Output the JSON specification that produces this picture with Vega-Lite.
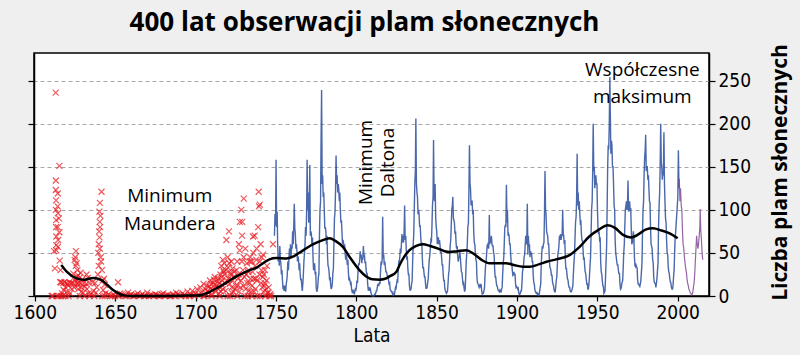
{
"$schema": "https://vega.github.io/schema/vega-lite/v6.json",
"width": 675, "height": 243,
"autosize": "none",
"padding": {"left": 34, "top": 53, "right": 91, "bottom": 59},
"background": "#efefef",
"title": {"text": "400 lat obserwacji plam słonecznych", "font": "Open Sans", "fontSize": 26, "fontWeight": "bold", "color": "black", "anchor": "middle", "offset": 8, "dx": -7},
"config": {
  "view": {"fill": "white", "stroke": "black", "strokeWidth": 1.5},
  "axis": {"domainColor": "black", "tickColor": "black", "labelColor": "black", "titleColor": "black", "domainWidth": 1.5, "tickWidth": 1.2}
},
"datasets": {
"red": [
{"t":1610.5,"n":0},{"t":1611.2,"n":0},{"t":1612.0,"n":52},{"t":1612.5,"n":32},{"t":1613.0,"n":236},{"t":1613.1,"n":134},{"t":1613.1,"n":123},{"t":1613.2,"n":111},{"t":1613.1,"n":100},{"t":1613.3,"n":88},{"t":1613.2,"n":80},{"t":1613.4,"n":69},{"t":1613.3,"n":59},{"t":1613.4,"n":53},{"t":1614.3,"n":119},{"t":1614.2,"n":104},{"t":1614.4,"n":96},{"t":1614.3,"n":80},{"t":1614.5,"n":65},{"t":1614.4,"n":57},{"t":1615.3,"n":151},{"t":1615.3,"n":74},{"t":1615.5,"n":41},{"t":1615.0,"n":90},{"t":1616.0,"n":30},{"t":1615.8,"n":16},{"t":1616.5,"n":16},{"t":1616.2,"n":0},{"t":1617.0,"n":3},{"t":1617.5,"n":0},{"t":1614.8,"n":0},{"t":1613.8,"n":0},
{"t":1617.5,"n":15},{"t":1618.5,"n":16},{"t":1619.5,"n":15},{"t":1620.5,"n":14},{"t":1621.5,"n":16},{"t":1622.5,"n":15},{"t":1623.5,"n":15},{"t":1624.5,"n":14},{"t":1626.5,"n":15},{"t":1627.5,"n":16},{"t":1628.5,"n":15},{"t":1630.5,"n":15},{"t":1632,"n":14},{"t":1634,"n":15},{"t":1636,"n":16},{"t":1637.5,"n":15},{"t":1618,"n":7},{"t":1620,"n":5},{"t":1619,"n":0},{"t":1621,"n":0},{"t":1622,"n":3},{"t":1628,"n":0},{"t":1630,"n":4},{"t":1631,"n":0},{"t":1634,"n":0},{"t":1635,"n":2},{"t":1637,"n":0},{"t":1638,"n":4},
{"t":1619,"n":10},{"t":1621,"n":12},{"t":1623,"n":8},{"t":1625,"n":18},{"t":1627,"n":12},{"t":1629,"n":5},{"t":1632.5,"n":8},{"t":1633.5,"n":3},{"t":1636.5,"n":6},{"t":1638.5,"n":10},{"t":1639.2,"n":25},{"t":1639.8,"n":35},{"t":1641.8,"n":30},{"t":1642.2,"n":18},
{"t":1625.6,"n":52},{"t":1625.2,"n":45},{"t":1624.8,"n":42},{"t":1626,"n":38},{"t":1625.5,"n":35},{"t":1626.5,"n":30},{"t":1627,"n":24},{"t":1626.2,"n":22},{"t":1627.8,"n":21},{"t":1628.5,"n":27},{"t":1629.5,"n":19},{"t":1632.2,"n":25},{"t":1633,"n":21},{"t":1631,"n":11},{"t":1624,"n":26},{"t":1624.5,"n":10},{"t":1627,"n":8},{"t":1629,"n":10},
{"t":1641.5,"n":121},{"t":1640.5,"n":108},{"t":1640.2,"n":98},{"t":1640.8,"n":93},{"t":1640.4,"n":86},{"t":1640.6,"n":80},{"t":1640.0,"n":75},{"t":1640.3,"n":68},{"t":1639.8,"n":60},{"t":1640.5,"n":55},{"t":1639.5,"n":50},{"t":1641,"n":45},{"t":1641.2,"n":40},{"t":1643,"n":20},{"t":1643.5,"n":13},{"t":1642.5,"n":7},{"t":1644,"n":3},{"t":1642,"n":0},{"t":1643.5,"n":0},
{"t":1646,"n":2},{"t":1648,"n":0},{"t":1651.8,"n":16},{"t":1653,"n":3},{"t":1655,"n":1},{"t":1656,"n":0},{"t":1658,"n":4},{"t":1660,"n":2},{"t":1662,"n":0},{"t":1664,"n":3},{"t":1666,"n":1},{"t":1668,"n":0},{"t":1670,"n":4},{"t":1672,"n":1},{"t":1675,"n":2},{"t":1677,"n":0},{"t":1680,"n":3},{"t":1682,"n":1},{"t":1684,"n":0},{"t":1686,"n":2},{"t":1688,"n":4},{"t":1690,"n":1},{"t":1692,"n":3},{"t":1694,"n":0},{"t":1695,"n":5},{"t":1697,"n":2},{"t":1698,"n":6},{"t":1699,"n":1},
{"t":1647,"n":0},{"t":1649,"n":1},{"t":1650,"n":0},{"t":1652,"n":0},{"t":1654,"n":2},{"t":1657,"n":0},{"t":1659,"n":1},{"t":1661,"n":0},{"t":1663,"n":1},{"t":1665,"n":0},{"t":1667,"n":2},{"t":1669,"n":0},{"t":1671,"n":0},{"t":1673,"n":1},{"t":1674,"n":0},{"t":1676,"n":1},{"t":1678,"n":0},{"t":1679,"n":2},{"t":1681,"n":0},{"t":1683,"n":1},{"t":1685,"n":0},{"t":1687,"n":0},{"t":1689,"n":2},{"t":1691,"n":0},{"t":1693,"n":1},{"t":1696,"n":0},{"t":1699.5,"n":0},
{"t":1700,"n":3},{"t":1701,"n":8},{"t":1702,"n":2},{"t":1703,"n":10},{"t":1704,"n":5},{"t":1705,"n":14},{"t":1705.5,"n":0},{"t":1706,"n":8},{"t":1707,"n":12},{"t":1708,"n":4},{"t":1709,"n":18},{"t":1709.5,"n":9},{"t":1710,"n":2},{"t":1711,"n":15},{"t":1712,"n":22},{"t":1712.5,"n":6},{"t":1713,"n":12},{"t":1714,"n":20},{"t":1714.5,"n":3},{"t":1715,"n":10},{"t":1715.5,"n":25},
{"t":1706.5,"n":3},{"t":1707.5,"n":6},{"t":1708.5,"n":11},{"t":1709.8,"n":14},{"t":1710.5,"n":7},{"t":1711.5,"n":19},{"t":1712.2,"n":13},{"t":1713.5,"n":17},{"t":1714.2,"n":8},{"t":1715.2,"n":15},{"t":1715.8,"n":5},{"t":1716.2,"n":22},{"t":1716.8,"n":12},{"t":1717.2,"n":30},{"t":1718.2,"n":25},{"t":1718.8,"n":6},{"t":1719.5,"n":18},{"t":1720.2,"n":33},{"t":1721.2,"n":14},{"t":1721.8,"n":27},{"t":1722.2,"n":40},{"t":1722.8,"n":3},{"t":1723.2,"n":18},{"t":1723.8,"n":22},{"t":1724.5,"n":8},{"t":1725.5,"n":30},{"t":1726.2,"n":12},{"t":1726.8,"n":25},{"t":1727.2,"n":5},{"t":1728.2,"n":18},{"t":1728.8,"n":40},{"t":1729.8,"n":12},{"t":1730.5,"n":22},{"t":1731.2,"n":8},{"t":1732.2,"n":15},{"t":1732.8,"n":28},{"t":1733.2,"n":6},{"t":1733.8,"n":40},{"t":1734.2,"n":20},{"t":1735.2,"n":12},{"t":1735.5,"n":28},{"t":1736.2,"n":20},{"t":1737.2,"n":8},{"t":1737.8,"n":42},{"t":1738.2,"n":18},{"t":1739.8,"n":25},{"t":1740.8,"n":15},{"t":1741.2,"n":45},{"t":1741.8,"n":22},{"t":1742.2,"n":5},{"t":1742.8,"n":12},{"t":1743.2,"n":30},{"t":1744.2,"n":18},{"t":1744.8,"n":4},{"t":1745.5,"n":10},{"t":1746.5,"n":2},{"t":1740.2,"n":0},{"t":1735,"n":0},{"t":1730.8,"n":0},{"t":1726,"n":0},{"t":1720,"n":0},{"t":1715,"n":0},{"t":1710,"n":0},{"t":1705,"n":0},
{"t":1716,"n":35},{"t":1716.5,"n":18},{"t":1717,"n":42},{"t":1717.5,"n":28},{"t":1717,"n":8},{"t":1718,"n":38},{"t":1718.5,"n":15},{"t":1719.2,"n":65},{"t":1719,"n":30},{"t":1720.8,"n":75},{"t":1720,"n":45},{"t":1720.5,"n":20},{"t":1721,"n":38},{"t":1721.5,"n":0},{"t":1722,"n":25},{"t":1722.5,"n":10},{"t":1723,"n":32},{"t":1723.5,"n":5},{"t":1724,"n":28},{"t":1725,"n":12},
{"t":1726,"n":40},{"t":1726.5,"n":20},{"t":1727,"n":60},{"t":1727.5,"n":53},{"t":1727.6,"n":86},{"t":1728.5,"n":100},{"t":1729.1,"n":86},{"t":1729,"n":70},{"t":1730,"n":113},{"t":1730,"n":45},{"t":1729.5,"n":30},{"t":1728,"n":10},{"t":1731,"n":55},{"t":1731.5,"n":25},{"t":1732,"n":38},{"t":1732.5,"n":0},{"t":1733,"n":30},{"t":1733.5,"n":15},{"t":1734,"n":45},{"t":1734.5,"n":5},{"t":1735,"n":40},
{"t":1735.8,"n":69},{"t":1736.8,"n":70},{"t":1736,"n":50},{"t":1737,"n":35},{"t":1737.5,"n":20},{"t":1738,"n":55},{"t":1739.3,"n":121},{"t":1739.5,"n":104},{"t":1740,"n":106},{"t":1739,"n":80},{"t":1740.5,"n":60},{"t":1740,"n":40},{"t":1741,"n":30},{"t":1741.5,"n":10},{"t":1742,"n":48},{"t":1742.5,"n":25},{"t":1743,"n":15},{"t":1743.5,"n":0},{"t":1744,"n":8},{"t":1745,"n":3},{"t":1746,"n":0},{"t":1747,"n":0},{"t":1748.2,"n":60},{"t":1744.5,"n":35},{"t":1738.5,"n":0},{"t":1736.5,"n":5}
],
"blue": [
{"t":1749.1,"n":70},{"t":1749.45,"n":95},{"t":1749.8,"n":82},
{"t":1750.1,"n":158},{"t":1750.45,"n":80},{"t":1750.8,"n":98},
{"t":1751.1,"n":62},{"t":1751.45,"n":40},{"t":1751.8,"n":48},
{"t":1752.1,"n":35},{"t":1752.45,"n":58},{"t":1752.8,"n":42},
{"t":1753.1,"n":38},{"t":1753.45,"n":25},{"t":1753.8,"n":30},
{"t":1754.1,"n":18},{"t":1754.45,"n":8},{"t":1754.8,"n":12},
{"t":1755.1,"n":6},{"t":1755.45,"n":12},{"t":1755.8,"n":8},
{"t":1756.1,"n":5},{"t":1756.45,"n":14},{"t":1756.8,"n":18},
{"t":1757.1,"n":25},{"t":1757.45,"n":40},{"t":1757.8,"n":30},
{"t":1758.1,"n":42},{"t":1758.45,"n":55},{"t":1758.8,"n":45},
{"t":1759.1,"n":60},{"t":1759.45,"n":45},{"t":1759.8,"n":58},
{"t":1760.1,"n":55},{"t":1760.45,"n":75},{"t":1760.8,"n":60},
{"t":1761.1,"n":80},{"t":1761.45,"n":107},{"t":1761.8,"n":78},
{"t":1762.1,"n":72},{"t":1762.45,"n":55},{"t":1762.8,"n":60},
{"t":1763.1,"n":52},{"t":1763.45,"n":40},{"t":1763.8,"n":46},
{"t":1764.1,"n":42},{"t":1764.45,"n":30},{"t":1764.8,"n":38},
{"t":1765.1,"n":26},{"t":1765.45,"n":18},{"t":1765.8,"n":20},
{"t":1766.1,"n":12},{"t":1766.45,"n":6},{"t":1766.8,"n":15},
{"t":1767.1,"n":25},{"t":1767.45,"n":40},{"t":1767.8,"n":50},
{"t":1768.1,"n":58},{"t":1768.45,"n":80},{"t":1768.8,"n":70},
{"t":1769.1,"n":95},{"t":1769.45,"n":158},{"t":1769.8,"n":100},
{"t":1770.1,"n":120},{"t":1770.45,"n":85},{"t":1770.8,"n":100},
{"t":1771.1,"n":152},{"t":1771.45,"n":70},{"t":1771.8,"n":75},
{"t":1772.1,"n":72},{"t":1772.45,"n":58},{"t":1772.8,"n":68},
{"t":1773.1,"n":45},{"t":1773.45,"n":30},{"t":1773.8,"n":32},
{"t":1774.1,"n":38},{"t":1774.45,"n":25},{"t":1774.8,"n":28},
{"t":1775.1,"n":10},{"t":1775.45,"n":5},{"t":1775.8,"n":7},
{"t":1776.1,"n":12},{"t":1776.45,"n":22},{"t":1776.8,"n":26},
{"t":1777.1,"n":70},{"t":1777.45,"n":100},{"t":1777.8,"n":110},
{"t":1778.1,"n":177},{"t":1778.45,"n":239},{"t":1778.8,"n":130},
{"t":1779.1,"n":140},{"t":1779.45,"n":115},{"t":1779.8,"n":120},
{"t":1780.1,"n":100},{"t":1780.45,"n":78},{"t":1780.8,"n":80},
{"t":1781.1,"n":75},{"t":1781.45,"n":60},{"t":1781.8,"n":70},
{"t":1782.1,"n":48},{"t":1782.45,"n":35},{"t":1782.8,"n":33},
{"t":1783.1,"n":28},{"t":1783.45,"n":18},{"t":1783.8,"n":22},
{"t":1784.1,"n":12},{"t":1784.45,"n":8},{"t":1784.8,"n":10},
{"t":1785.1,"n":14},{"t":1785.45,"n":26},{"t":1785.8,"n":32},
{"t":1786.1,"n":60},{"t":1786.45,"n":90},{"t":1786.8,"n":98},
{"t":1787.1,"n":120},{"t":1787.45,"n":163},{"t":1787.8,"n":130},
{"t":1788.1,"n":140},{"t":1788.45,"n":120},{"t":1788.8,"n":130},
{"t":1789.1,"n":125},{"t":1789.45,"n":110},{"t":1789.8,"n":120},
{"t":1790.1,"n":100},{"t":1790.45,"n":85},{"t":1790.8,"n":88},
{"t":1791.1,"n":75},{"t":1791.45,"n":60},{"t":1791.8,"n":65},
{"t":1792.1,"n":62},{"t":1792.45,"n":55},{"t":1792.8,"n":60},
{"t":1793.1,"n":50},{"t":1793.45,"n":42},{"t":1793.8,"n":48},
{"t":1794.1,"n":45},{"t":1794.45,"n":36},{"t":1794.8,"n":42},
{"t":1795.1,"n":28},{"t":1795.45,"n":18},{"t":1795.8,"n":20},
{"t":1796.1,"n":18},{"t":1796.45,"n":14},{"t":1796.8,"n":15},
{"t":1797.1,"n":8},{"t":1797.45,"n":5},{"t":1797.8,"n":6},
{"t":1798.1,"n":3},{"t":1798.45,"n":5},{"t":1798.8,"n":2},
{"t":1799.1,"n":5},{"t":1799.45,"n":8},{"t":1799.8,"n":7},
{"t":1800.1,"n":10},{"t":1800.45,"n":18},{"t":1800.8,"n":15},
{"t":1801.1,"n":28},{"t":1801.45,"n":38},{"t":1801.8,"n":36},
{"t":1802.1,"n":40},{"t":1802.45,"n":52},{"t":1802.8,"n":44},
{"t":1803.1,"n":48},{"t":1803.45,"n":38},{"t":1803.8,"n":45},
{"t":1804.1,"n":42},{"t":1804.45,"n":58},{"t":1804.8,"n":45},
{"t":1805.1,"n":48},{"t":1805.45,"n":38},{"t":1805.8,"n":40},
{"t":1806.1,"n":32},{"t":1806.45,"n":25},{"t":1806.8,"n":27},
{"t":1807.1,"n":14},{"t":1807.45,"n":8},{"t":1807.8,"n":9},
{"t":1808.1,"n":6},{"t":1808.45,"n":10},{"t":1808.8,"n":8},
{"t":1809.1,"n":4},{"t":1809.45,"n":2},{"t":1809.8,"n":1},
{"t":1810.1,"n":0},{"t":1810.45,"n":0},{"t":1810.8,"n":0},
{"t":1811.1,"n":0},{"t":1811.45,"n":2},{"t":1811.8,"n":2},
{"t":1812.1,"n":3},{"t":1812.45,"n":6},{"t":1812.8,"n":6},
{"t":1813.1,"n":10},{"t":1813.45,"n":14},{"t":1813.8,"n":12},
{"t":1814.1,"n":12},{"t":1814.45,"n":16},{"t":1814.8,"n":14},
{"t":1815.1,"n":28},{"t":1815.45,"n":40},{"t":1815.8,"n":38},
{"t":1816.1,"n":40},{"t":1816.45,"n":92},{"t":1816.8,"n":44},
{"t":1817.1,"n":48},{"t":1817.45,"n":36},{"t":1817.8,"n":40},
{"t":1818.1,"n":34},{"t":1818.45,"n":28},{"t":1818.8,"n":28},
{"t":1819.1,"n":26},{"t":1819.45,"n":22},{"t":1819.8,"n":24},
{"t":1820.1,"n":18},{"t":1820.45,"n":14},{"t":1820.8,"n":15},
{"t":1821.1,"n":8},{"t":1821.45,"n":6},{"t":1821.8,"n":6},
{"t":1822.1,"n":5},{"t":1822.45,"n":3},{"t":1822.8,"n":4},
{"t":1823.1,"n":1},{"t":1823.45,"n":2},{"t":1823.8,"n":2},
{"t":1824.1,"n":6},{"t":1824.45,"n":10},{"t":1824.8,"n":9},
{"t":1825.1,"n":14},{"t":1825.45,"n":18},{"t":1825.8,"n":17},
{"t":1826.1,"n":28},{"t":1826.45,"n":40},{"t":1826.8,"n":40},
{"t":1827.1,"n":45},{"t":1827.45,"n":55},{"t":1827.8,"n":50},
{"t":1828.1,"n":60},{"t":1828.45,"n":72},{"t":1828.8,"n":62},
{"t":1829.1,"n":70},{"t":1829.45,"n":62},{"t":1829.8,"n":75},
{"t":1830.1,"n":105},{"t":1830.45,"n":65},{"t":1830.8,"n":70},
{"t":1831.1,"n":55},{"t":1831.45,"n":42},{"t":1831.8,"n":46},
{"t":1832.1,"n":32},{"t":1832.45,"n":25},{"t":1832.8,"n":25},
{"t":1833.1,"n":12},{"t":1833.45,"n":7},{"t":1833.8,"n":7},
{"t":1834.1,"n":8},{"t":1834.45,"n":14},{"t":1834.8,"n":18},
{"t":1835.1,"n":40},{"t":1835.45,"n":60},{"t":1835.8,"n":72},
{"t":1836.1,"n":100},{"t":1836.45,"n":130},{"t":1836.8,"n":146},
{"t":1837.1,"n":206},{"t":1837.45,"n":130},{"t":1837.8,"n":120},
{"t":1838.1,"n":115},{"t":1838.45,"n":95},{"t":1838.8,"n":100},
{"t":1839.1,"n":95},{"t":1839.45,"n":80},{"t":1839.8,"n":82},
{"t":1840.1,"n":70},{"t":1840.45,"n":60},{"t":1840.8,"n":62},
{"t":1841.1,"n":45},{"t":1841.45,"n":32},{"t":1841.8,"n":34},
{"t":1842.1,"n":28},{"t":1842.45,"n":22},{"t":1842.8,"n":22},
{"t":1843.1,"n":14},{"t":1843.45,"n":9},{"t":1843.8,"n":9},
{"t":1844.1,"n":10},{"t":1844.45,"n":16},{"t":1844.8,"n":20},
{"t":1845.1,"n":32},{"t":1845.45,"n":42},{"t":1845.8,"n":48},
{"t":1846.1,"n":55},{"t":1846.45,"n":65},{"t":1846.8,"n":64},
{"t":1847.1,"n":80},{"t":1847.45,"n":105},{"t":1847.8,"n":115},
{"t":1848.1,"n":181},{"t":1848.45,"n":115},{"t":1848.8,"n":110},
{"t":1849.1,"n":130},{"t":1849.45,"n":90},{"t":1849.8,"n":80},
{"t":1850.1,"n":75},{"t":1850.45,"n":60},{"t":1850.8,"n":66},
{"t":1851.1,"n":68},{"t":1851.45,"n":60},{"t":1851.8,"n":65},
{"t":1852.1,"n":60},{"t":1852.45,"n":50},{"t":1852.8,"n":52},
{"t":1853.1,"n":45},{"t":1853.45,"n":36},{"t":1853.8,"n":36},
{"t":1854.1,"n":25},{"t":1854.45,"n":18},{"t":1854.8,"n":18},
{"t":1855.1,"n":9},{"t":1855.45,"n":6},{"t":1855.8,"n":5},
{"t":1856.1,"n":3},{"t":1856.45,"n":4},{"t":1856.8,"n":6},
{"t":1857.1,"n":14},{"t":1857.45,"n":25},{"t":1857.8,"n":30},
{"t":1858.1,"n":42},{"t":1858.45,"n":58},{"t":1858.8,"n":65},
{"t":1859.1,"n":80},{"t":1859.45,"n":100},{"t":1859.8,"n":105},
{"t":1860.1,"n":115},{"t":1860.45,"n":90},{"t":1860.8,"n":88},
{"t":1861.1,"n":85},{"t":1861.45,"n":72},{"t":1861.8,"n":75},
{"t":1862.1,"n":62},{"t":1862.45,"n":55},{"t":1862.8,"n":58},
{"t":1863.1,"n":48},{"t":1863.45,"n":40},{"t":1863.8,"n":44},
{"t":1864.1,"n":45},{"t":1864.45,"n":52},{"t":1864.8,"n":44},
{"t":1865.1,"n":36},{"t":1865.45,"n":28},{"t":1865.8,"n":27},
{"t":1866.1,"n":20},{"t":1866.45,"n":14},{"t":1866.8,"n":15},
{"t":1867.1,"n":9},{"t":1867.45,"n":5},{"t":1867.8,"n":8},
{"t":1868.1,"n":22},{"t":1868.45,"n":40},{"t":1868.8,"n":50},
{"t":1869.1,"n":60},{"t":1869.45,"n":80},{"t":1869.8,"n":85},
{"t":1870.1,"n":120},{"t":1870.45,"n":175},{"t":1870.8,"n":130},
{"t":1871.1,"n":125},{"t":1871.45,"n":105},{"t":1871.8,"n":110},
{"t":1872.1,"n":110},{"t":1872.45,"n":95},{"t":1872.8,"n":100},
{"t":1873.1,"n":75},{"t":1873.45,"n":62},{"t":1873.8,"n":60},
{"t":1874.1,"n":50},{"t":1874.45,"n":42},{"t":1874.8,"n":40},
{"t":1875.1,"n":22},{"t":1875.45,"n":15},{"t":1875.8,"n":14},
{"t":1876.1,"n":12},{"t":1876.45,"n":10},{"t":1876.8,"n":12},
{"t":1877.1,"n":14},{"t":1877.45,"n":11},{"t":1877.8,"n":12},
{"t":1878.1,"n":5},{"t":1878.45,"n":2},{"t":1878.8,"n":3},
{"t":1879.1,"n":3},{"t":1879.45,"n":6},{"t":1879.8,"n":9},
{"t":1880.1,"n":22},{"t":1880.45,"n":35},{"t":1880.8,"n":40},
{"t":1881.1,"n":48},{"t":1881.45,"n":58},{"t":1881.8,"n":57},
{"t":1882.1,"n":62},{"t":1882.45,"n":55},{"t":1882.8,"n":94},
{"t":1883.1,"n":60},{"t":1883.45,"n":68},{"t":1883.8,"n":62},
{"t":1884.1,"n":70},{"t":1884.45,"n":60},{"t":1884.8,"n":58},
{"t":1885.1,"n":58},{"t":1885.45,"n":50},{"t":1885.8,"n":48},
{"t":1886.1,"n":32},{"t":1886.45,"n":22},{"t":1886.8,"n":22},
{"t":1887.1,"n":16},{"t":1887.45,"n":12},{"t":1887.8,"n":11},
{"t":1888.1,"n":8},{"t":1888.45,"n":6},{"t":1888.8,"n":6},
{"t":1889.1,"n":5},{"t":1889.45,"n":7},{"t":1889.8,"n":6},
{"t":1890.1,"n":4},{"t":1890.45,"n":8},{"t":1890.8,"n":10},
{"t":1891.1,"n":25},{"t":1891.45,"n":38},{"t":1891.8,"n":45},
{"t":1892.1,"n":60},{"t":1892.45,"n":80},{"t":1892.8,"n":82},
{"t":1893.1,"n":80},{"t":1893.45,"n":129},{"t":1893.8,"n":85},
{"t":1894.1,"n":100},{"t":1894.45,"n":70},{"t":1894.8,"n":72},
{"t":1895.1,"n":70},{"t":1895.45,"n":60},{"t":1895.8,"n":60},
{"t":1896.1,"n":48},{"t":1896.45,"n":38},{"t":1896.8,"n":38},
{"t":1897.1,"n":30},{"t":1897.45,"n":24},{"t":1897.8,"n":25},
{"t":1898.1,"n":28},{"t":1898.45,"n":24},{"t":1898.8,"n":26},
{"t":1899.1,"n":15},{"t":1899.45,"n":10},{"t":1899.8,"n":11},
{"t":1900.1,"n":10},{"t":1900.45,"n":8},{"t":1900.8,"n":9},
{"t":1901.1,"n":4},{"t":1901.45,"n":2},{"t":1901.8,"n":2},
{"t":1902.1,"n":3},{"t":1902.45,"n":6},{"t":1902.8,"n":6},
{"t":1903.1,"n":14},{"t":1903.45,"n":28},{"t":1903.8,"n":32},
{"t":1904.1,"n":36},{"t":1904.45,"n":45},{"t":1904.8,"n":48},
{"t":1905.1,"n":58},{"t":1905.45,"n":70},{"t":1905.8,"n":65},
{"t":1906.1,"n":60},{"t":1906.45,"n":107},{"t":1906.8,"n":48},
{"t":1907.1,"n":70},{"t":1907.45,"n":58},{"t":1907.8,"n":60},
{"t":1908.1,"n":45},{"t":1908.45,"n":52},{"t":1908.8,"n":48},
{"t":1909.1,"n":50},{"t":1909.45,"n":40},{"t":1909.8,"n":40},
{"t":1910.1,"n":25},{"t":1910.45,"n":16},{"t":1910.8,"n":14},
{"t":1911.1,"n":8},{"t":1911.45,"n":5},{"t":1911.8,"n":4},
{"t":1912.1,"n":3},{"t":1912.45,"n":4},{"t":1912.8,"n":3},
{"t":1913.1,"n":1},{"t":1913.45,"n":2},{"t":1913.8,"n":1},
{"t":1914.1,"n":5},{"t":1914.45,"n":10},{"t":1914.8,"n":14},
{"t":1915.1,"n":35},{"t":1915.45,"n":50},{"t":1915.8,"n":58},
{"t":1916.1,"n":55},{"t":1916.45,"n":60},{"t":1916.8,"n":62},
{"t":1917.1,"n":90},{"t":1917.45,"n":145},{"t":1917.8,"n":100},
{"t":1918.1,"n":95},{"t":1918.45,"n":75},{"t":1918.8,"n":72},
{"t":1919.1,"n":70},{"t":1919.45,"n":60},{"t":1919.8,"n":60},
{"t":1920.1,"n":45},{"t":1920.45,"n":34},{"t":1920.8,"n":32},
{"t":1921.1,"n":30},{"t":1921.45,"n":24},{"t":1921.8,"n":24},
{"t":1922.1,"n":17},{"t":1922.45,"n":13},{"t":1922.8,"n":12},
{"t":1923.1,"n":7},{"t":1923.45,"n":5},{"t":1923.8,"n":5},
{"t":1924.1,"n":10},{"t":1924.45,"n":18},{"t":1924.8,"n":22},
{"t":1925.1,"n":35},{"t":1925.45,"n":48},{"t":1925.8,"n":52},
{"t":1926.1,"n":58},{"t":1926.45,"n":70},{"t":1926.8,"n":65},
{"t":1927.1,"n":72},{"t":1927.45,"n":65},{"t":1927.8,"n":70},
{"t":1928.1,"n":70},{"t":1928.45,"n":100},{"t":1928.8,"n":72},
{"t":1929.1,"n":70},{"t":1929.45,"n":60},{"t":1929.8,"n":65},
{"t":1930.1,"n":42},{"t":1930.45,"n":32},{"t":1930.8,"n":32},
{"t":1931.1,"n":25},{"t":1931.45,"n":20},{"t":1931.8,"n":18},
{"t":1932.1,"n":13},{"t":1932.45,"n":10},{"t":1932.8,"n":10},
{"t":1933.1,"n":6},{"t":1933.45,"n":5},{"t":1933.8,"n":5},
{"t":1934.1,"n":6},{"t":1934.45,"n":9},{"t":1934.8,"n":12},
{"t":1935.1,"n":25},{"t":1935.45,"n":38},{"t":1935.8,"n":48},
{"t":1936.1,"n":65},{"t":1936.45,"n":85},{"t":1936.8,"n":92},
{"t":1937.1,"n":110},{"t":1937.45,"n":165},{"t":1937.8,"n":105},
{"t":1938.1,"n":120},{"t":1938.45,"n":100},{"t":1938.8,"n":110},
{"t":1939.1,"n":95},{"t":1939.45,"n":85},{"t":1939.8,"n":86},
{"t":1940.1,"n":72},{"t":1940.45,"n":65},{"t":1940.8,"n":64},
{"t":1941.1,"n":55},{"t":1941.45,"n":42},{"t":1941.8,"n":45},
{"t":1942.1,"n":36},{"t":1942.45,"n":28},{"t":1942.8,"n":26},
{"t":1943.1,"n":20},{"t":1943.45,"n":14},{"t":1943.8,"n":14},
{"t":1944.1,"n":8},{"t":1944.45,"n":8},{"t":1944.8,"n":14},
{"t":1945.1,"n":22},{"t":1945.45,"n":35},{"t":1945.8,"n":45},
{"t":1946.1,"n":70},{"t":1946.45,"n":100},{"t":1946.8,"n":110},
{"t":1947.1,"n":140},{"t":1947.45,"n":200},{"t":1947.8,"n":145},
{"t":1948.1,"n":150},{"t":1948.45,"n":125},{"t":1948.8,"n":135},
{"t":1949.1,"n":140},{"t":1949.45,"n":130},{"t":1949.8,"n":130},
{"t":1950.1,"n":100},{"t":1950.45,"n":78},{"t":1950.8,"n":72},
{"t":1951.1,"n":75},{"t":1951.45,"n":65},{"t":1951.8,"n":66},
{"t":1952.1,"n":40},{"t":1952.45,"n":28},{"t":1952.8,"n":25},
{"t":1953.1,"n":18},{"t":1953.45,"n":12},{"t":1953.8,"n":11},
{"t":1954.1,"n":3},{"t":1954.45,"n":4},{"t":1954.8,"n":6},
{"t":1955.1,"n":20},{"t":1955.45,"n":40},{"t":1955.8,"n":58},
{"t":1956.1,"n":100},{"t":1956.45,"n":150},{"t":1956.8,"n":175},
{"t":1957.1,"n":170},{"t":1957.45,"n":200},{"t":1957.8,"n":254},
{"t":1958.1,"n":210},{"t":1958.45,"n":165},{"t":1958.8,"n":180},
{"t":1959.1,"n":175},{"t":1959.45,"n":150},{"t":1959.8,"n":150},
{"t":1960.1,"n":130},{"t":1960.45,"n":105},{"t":1960.8,"n":100},
{"t":1961.1,"n":65},{"t":1961.45,"n":50},{"t":1961.8,"n":45},
{"t":1962.1,"n":40},{"t":1962.45,"n":36},{"t":1962.8,"n":36},
{"t":1963.1,"n":30},{"t":1963.45,"n":26},{"t":1963.8,"n":26},
{"t":1964.1,"n":14},{"t":1964.45,"n":8},{"t":1964.8,"n":9},
{"t":1965.1,"n":12},{"t":1965.45,"n":16},{"t":1965.8,"n":18},
{"t":1966.1,"n":32},{"t":1966.45,"n":50},{"t":1966.8,"n":60},
{"t":1967.1,"n":80},{"t":1967.45,"n":100},{"t":1967.8,"n":105},
{"t":1968.1,"n":110},{"t":1968.45,"n":100},{"t":1968.8,"n":108},
{"t":1969.1,"n":134},{"t":1969.45,"n":98},{"t":1969.8,"n":100},
{"t":1970.1,"n":110},{"t":1970.45,"n":100},{"t":1970.8,"n":102},
{"t":1971.1,"n":80},{"t":1971.45,"n":60},{"t":1971.8,"n":62},
{"t":1972.1,"n":65},{"t":1972.45,"n":75},{"t":1972.8,"n":66},
{"t":1973.1,"n":45},{"t":1973.45,"n":35},{"t":1973.8,"n":34},
{"t":1974.1,"n":36},{"t":1974.45,"n":34},{"t":1974.8,"n":32},
{"t":1975.1,"n":18},{"t":1975.45,"n":14},{"t":1975.8,"n":14},
{"t":1976.1,"n":12},{"t":1976.45,"n":11},{"t":1976.8,"n":14},
{"t":1977.1,"n":18},{"t":1977.45,"n":28},{"t":1977.8,"n":38},
{"t":1978.1,"n":70},{"t":1978.45,"n":100},{"t":1978.8,"n":110},
{"t":1979.1,"n":140},{"t":1979.45,"n":160},{"t":1979.8,"n":170},
{"t":1980.1,"n":187},{"t":1980.45,"n":145},{"t":1980.8,"n":150},
{"t":1981.1,"n":150},{"t":1981.45,"n":135},{"t":1981.8,"n":140},
{"t":1982.1,"n":125},{"t":1982.45,"n":110},{"t":1982.8,"n":108},
{"t":1983.1,"n":80},{"t":1983.45,"n":60},{"t":1983.8,"n":58},
{"t":1984.1,"n":55},{"t":1984.45,"n":42},{"t":1984.8,"n":38},
{"t":1985.1,"n":22},{"t":1985.45,"n":16},{"t":1985.8,"n":15},
{"t":1986.1,"n":14},{"t":1986.45,"n":10},{"t":1986.8,"n":15},
{"t":1987.1,"n":20},{"t":1987.45,"n":30},{"t":1987.8,"n":38},
{"t":1988.1,"n":80},{"t":1988.45,"n":105},{"t":1988.8,"n":120},
{"t":1989.1,"n":150},{"t":1989.45,"n":200},{"t":1989.8,"n":155},
{"t":1990.1,"n":150},{"t":1990.45,"n":135},{"t":1990.8,"n":145},
{"t":1991.1,"n":140},{"t":1991.45,"n":190},{"t":1991.8,"n":130},
{"t":1992.1,"n":110},{"t":1992.45,"n":90},{"t":1992.8,"n":85},
{"t":1993.1,"n":65},{"t":1993.45,"n":50},{"t":1993.8,"n":48},
{"t":1994.1,"n":35},{"t":1994.45,"n":28},{"t":1994.8,"n":26},
{"t":1995.1,"n":20},{"t":1995.45,"n":16},{"t":1995.8,"n":15},
{"t":1996.1,"n":10},{"t":1996.45,"n":8},{"t":1996.8,"n":8},
{"t":1997.1,"n":12},{"t":1997.45,"n":22},{"t":1997.8,"n":30},
{"t":1998.1,"n":50},{"t":1998.45,"n":68},{"t":1998.8,"n":75},
{"t":1999.1,"n":85},{"t":1999.45,"n":95},{"t":1999.8,"n":105},
{"t":2000.1,"n":115},{"t":2000.45,"n":169},{"t":2000.8,"n":125}
],
"purple": [
{"t":2000.8,"n":125},{"t":2001.0,"n":136},{"t":2001.4,"n":110},{"t":2001.8,"n":125},{"t":2002.2,"n":105},{"t":2002.6,"n":100},{"t":2003.0,"n":75},{"t":2003.4,"n":60},{"t":2003.8,"n":55},{"t":2004.2,"n":45},{"t":2004.6,"n":38},{"t":2005.0,"n":32},{"t":2005.4,"n":28},{"t":2005.8,"n":20},{"t":2006.2,"n":15},{"t":2006.6,"n":12},{"t":2007.0,"n":8},{"t":2007.4,"n":6},{"t":2007.8,"n":4},{"t":2008.2,"n":3},{"t":2008.6,"n":1},{"t":2009.0,"n":2},{"t":2009.4,"n":4},{"t":2009.8,"n":10},{"t":2010.2,"n":15},{"t":2010.6,"n":25},{"t":2011.0,"n":40},{"t":2011.4,"n":55},{"t":2011.8,"n":70},{"t":2012.2,"n":60},{"t":2012.6,"n":55},{"t":2013.0,"n":60},{"t":2013.4,"n":70},{"t":2013.8,"n":80},{"t":2014.0,"n":101},{"t":2014.4,"n":75},{"t":2014.8,"n":65},{"t":2015.2,"n":50},{"t":2015.6,"n":42}
],
"smooth": [
{"t":1616.5,"n":36},{"t":1620,"n":28},{"t":1626,"n":20.5},{"t":1631,"n":19},{"t":1636.3,"n":21},{"t":1641.5,"n":18.5},{"t":1645,"n":13},{"t":1648.7,"n":7},{"t":1655,"n":1},{"t":1660,"n":0},{"t":1680,"n":0},{"t":1695,"n":0.5},{"t":1702.6,"n":1},{"t":1708,"n":4},{"t":1713,"n":9},{"t":1718,"n":14},{"t":1723.3,"n":20.5},{"t":1728,"n":25},{"t":1733.7,"n":30},{"t":1738,"n":33},{"t":1742,"n":38},{"t":1746,"n":42.5},{"t":1750.3,"n":44},{"t":1756.5,"n":43.6},{"t":1761,"n":46},{"t":1766.9,"n":53},{"t":1773,"n":60},{"t":1778,"n":64},{"t":1783.5,"n":67},{"t":1787,"n":64},{"t":1791.7,"n":57},{"t":1796,"n":45},{"t":1802,"n":30},{"t":1806,"n":23},{"t":1810,"n":19.5},{"t":1814.6,"n":19},{"t":1818,"n":20},{"t":1821,"n":23},{"t":1825,"n":28},{"t":1827,"n":36},{"t":1830,"n":46},{"t":1833,"n":53},{"t":1837,"n":58},{"t":1841.5,"n":60},{"t":1846,"n":58},{"t":1851,"n":55},{"t":1855,"n":52},{"t":1858,"n":51},{"t":1863,"n":52},{"t":1868.5,"n":53},{"t":1873,"n":49},{"t":1878,"n":42},{"t":1883,"n":38},{"t":1888,"n":38},{"t":1893.3,"n":38},{"t":1898,"n":36},{"t":1903.7,"n":34},{"t":1908,"n":34},{"t":1914,"n":37},{"t":1919,"n":40},{"t":1924.4,"n":42.5},{"t":1932.7,"n":47.5},{"t":1939,"n":57},{"t":1945,"n":69},{"t":1951,"n":77},{"t":1956.5,"n":82},{"t":1961,"n":79},{"t":1966,"n":71},{"t":1971,"n":68},{"t":1976,"n":72},{"t":1980,"n":77},{"t":1984.5,"n":78.5},{"t":1990,"n":76},{"t":1995,"n":72.7},{"t":2000,"n":67}
],
"labels": [
{"t":1684,"n":116,"label":"Minimum"},{"t":1684,"n":84,"label":"Maundera"},
{"t":1978,"n":262,"label":"Współczesne"},{"t":1978,"n":231,"label":"maksimum"}
],
"vlabels": [
{"t":1805.8,"n":155,"label":"Minimum"},{"t":1819.7,"n":155,"label":"Daltona"}
]
},
"layer": [
{
 "data": {"name": "red"},
 "mark": {"type": "point", "shape": "M-1,-1L1,1M-1,1L1,-1", "filled": false, "size": 36, "stroke": "#e8141c", "strokeWidth": 1.2, "opacity": 0.7},
 "encoding": {
  "x": {"field": "t", "type": "quantitative", "scale": {"domain": [1599.5, 2019.5], "nice": false, "zero": false},
        "axis": {"values": [1600,1650,1700,1750,1800,1850,1900,1950,2000], "format": "d", "title": "Lata", "grid": false, "labelFlush": false, "labelOverlap": false,
                 "labelFont": "DejaVu Sans Condensed", "labelFontSize": 19, "labelPadding": 2, "tickSize": 5,
                 "titleFont": "DejaVu Sans Condensed", "titleFontSize": 19, "titleFontWeight": "normal", "titlePadding": 4}},
  "y": {"field": "n", "type": "quantitative", "scale": {"domain": [0, 282], "nice": false},
        "axis": {"orient": "left", "values": [0,50,100,150,200,250], "labels": false, "title": null, "grid": false, "tickSize": 6}}
 }
},
{
 "data": {"name": "blue"},
 "mark": {"type": "line", "color": "#2a4d9e", "strokeWidth": 1.4, "opacity": 0.85},
 "encoding": {
  "x": {"field": "t", "type": "quantitative"},
  "y": {"field": "n", "type": "quantitative",
        "axis": {"orient": "right", "values": [0,50,100,150,200,250], "grid": true, "gridColor": "#a8a8a8", "gridDash": [4,3], "gridWidth": 1.2,
                 "labelFont": "DejaVu Sans Condensed", "labelFontSize": 19, "labelPadding": 3, "tickSize": 6,
                 "title": "Liczba plam słonecznych", "titleFont": "Open Sans", "titleFontSize": 21, "titleFontWeight": "bold", "titleAngle": 270,
                 "titleX": 71, "titleY": 119, "titleAlign": "center", "titleBaseline": "middle"}}
 }
},
{
 "data": {"name": "purple"},
 "mark": {"type": "line", "color": "#7a3d8f", "strokeWidth": 1.2, "opacity": 0.8},
 "encoding": {
  "x": {"field": "t", "type": "quantitative"},
  "y": {"field": "n", "type": "quantitative", "axis": null}
 }
},
{
 "data": {"name": "smooth"},
 "mark": {"type": "line", "color": "black", "strokeWidth": 2.5, "interpolate": "monotone"},
 "encoding": {
  "x": {"field": "t", "type": "quantitative"},
  "y": {"field": "n", "type": "quantitative", "axis": null}
 }
},
{
 "data": {"name": "labels"},
 "mark": {"type": "text", "font": "Open Sans", "fontSize": 19, "color": "black", "align": "center", "baseline": "middle"},
 "encoding": {
  "x": {"field": "t", "type": "quantitative"},
  "y": {"field": "n", "type": "quantitative", "axis": null},
  "text": {"field": "label"}
 }
},
{
 "data": {"name": "vlabels"},
 "mark": {"type": "text", "font": "Open Sans", "fontSize": 19, "color": "black", "align": "center", "baseline": "middle", "angle": 270},
 "encoding": {
  "x": {"field": "t", "type": "quantitative"},
  "y": {"field": "n", "type": "quantitative", "axis": null},
  "text": {"field": "label"}
 }
}
],
"resolve": {"axis": {"y": "independent"}}
}
